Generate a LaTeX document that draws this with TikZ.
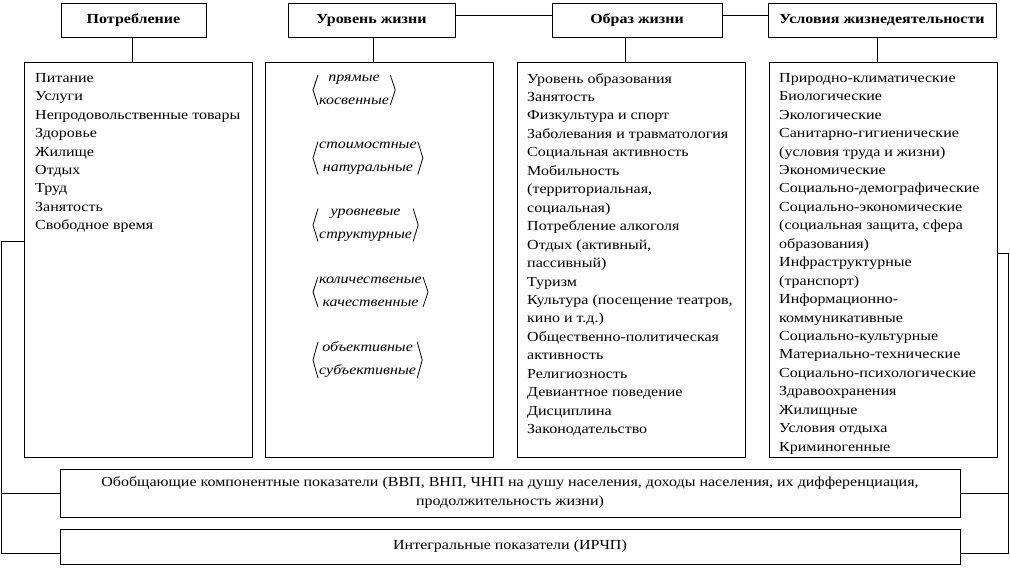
\documentclass[tikz,border=0pt]{standalone}
\usepackage{fontspec}
\setmainfont{Liberation Serif}[FakeStretch=1.16]
\usepackage{tikz}
\usetikzlibrary{positioning}
\tikzset{
  box/.style={draw,line width=0.8pt,inner sep=0pt},
  head/.style={box,minimum height=34,font=\bfseries\fontsize{13.8}{16}\selectfont},
  col/.style={box,anchor=north west,minimum width=228,minimum height=395},
  items/.style={anchor=north west,align=left,inner sep=0pt,font=\fontsize{13.8}{18.45}\selectfont},
  pair/.style={anchor=west,align=center,inner xsep=6pt,inner ysep=0pt,font=\itshape\fontsize{13.8}{23}\selectfont},
  link/.style={line width=0.8pt}
}

\begin{document}
\begin{tikzpicture}[x=1pt,y=-1pt]
  \useasboundingbox (0,0) rectangle (1010,569);
  % headers
  \node[head,minimum width=145] (potr) at (133.5,20) {Потребление};
  \node[head,minimum width=167] (ur)   at (371.5,20) {Уровень жизни};
  \node[head,minimum width=170] (oz)   at (637,20)   {Образ жизни};
  \node[head,minimum width=228] (usl)  at (882,20)   {Условия жизнедеятельности};
  \draw[link] ([yshift=5]ur.east) -- ([yshift=5]oz.west);
  \draw[link] ([yshift=5]oz.east) -- ([yshift=5]usl.west);
  % columns
  \node[col] (c1) at (24,62)  {};
  \node[col] (c2) at (265,62) {};
  \node[col] (c3) at (517,62) {};
  \node[col] (c4) at (769,62) {};
  \draw[link] ([xshift=-6]c1.north) -- ([xshift=-6]c1.north |- potr.south);
  \draw[link] ([xshift=-6]c2.north) -- ([xshift=-6]c2.north |- ur.south);
  \draw[link] ([xshift=-6]c3.north) -- ([xshift=-6]c3.north |- oz.south);
  \draw[link] ([xshift=-6]c4.north) -- ([xshift=-6]c4.north |- usl.south);
  % consumption list
  \node[items] (l1) at (35,73) {Питание\\Услуги\\Непродовольственные товары\\Здоровье\\Жилище\\Отдых\\Труд\\Занятость\\Свободное время};
  % level of living: pairs in angle brackets
  \foreach \n/\a/\b/\y in {1/прямые/косвенные/90, 2/стоимостные/натуральные/158,
      3/уровневые/структурные/225, 4/количественые/качественные/292,
      5/объективные/субъективные/360} {
    \node[pair] (g\n) at (313,\y) {\a\\\b};
    \draw[link] ([xshift=5]g\n.north west) -- (g\n.west) -- ([xshift=5]g\n.south west);
    \draw[link] ([xshift=-5]g\n.north east) -- (g\n.east) -- ([xshift=-5]g\n.south east);
  }
  % way of life list
  \node[items] (l3) at (527,73) {Уровень образования\\Занятость\\Физкультура и спорт\\Заболевания и травматология\\Социальная активность\\Мобильность\\(территориальная,\\социальная)\\Потребление алкоголя\\Отдых (активный,\\пассивный)\\Туризм\\Культура (посещение театров,\\кино и т.д.)\\Общественно-политическая\\активность\\Религиозность\\Девиантное поведение\\Дисциплина\\Законодательство};
  % conditions list
  \node[items] (l4) at (779,73) {Природно-климатические\\Биологические\\Экологические\\Санитарно-гигиенические\\(условия труда и жизни)\\Экономические\\Социально-демографические\\Социально-экономические\\(социальная защита, сфера\\образования)\\Инфраструктурные\\(транспорт)\\Информационно-\\коммуникативные\\Социально-культурные\\Материально-технические\\Социально-психологические\\Здравоохранения\\Жилищные\\Условия отдыха\\Криминогенные};
  % summary boxes
  \node[box,minimum width=900,minimum height=48,align=center,font=\fontsize{13.8}{19}\selectfont] (ob) at (510,493)
    {Обобщающие компонентные показатели (ВВП, ВНП, ЧНП на душу населения, доходы населения, их дифференциация,\\продолжительность жизни)};
  \node[box,minimum width=900,minimum height=35,font=\fontsize{13.8}{16}\selectfont] (int) at (510,546.5)
    {Интегральные показатели (ИРЧП)};
  % side links
  \coordinate (lb) at (1,553);
  \coordinate (rb) at (1008,553);
  \draw[link] ([yshift=18]c1.west) -| (lb) -- (int.west |- lb);
  \draw[link] (ob.west) -- (ob.west -| lb);
  \draw[link] ([yshift=6]c4.east) -| (rb) -- (int.east |- rb);
  \draw[link] (ob.east) -- (ob.east -| rb);
\end{tikzpicture}
\end{document}
